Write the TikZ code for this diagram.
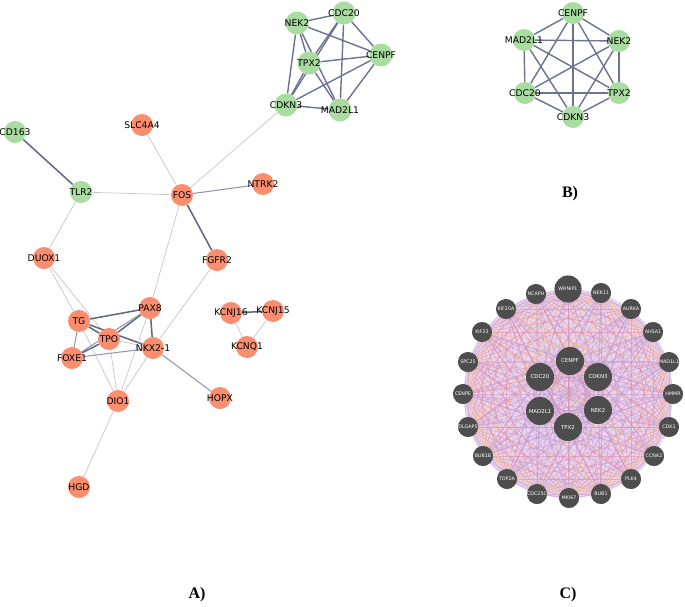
\documentclass[tikz,border=0pt]{standalone}
\usepackage{fontspec}
\setmainfont{DejaVu Sans}
\newfontfamily\tnr{Liberation Serif}
\usetikzlibrary{patterns}
\pgfdeclarelayer{bg}
\pgfdeclarelayer{paper}
\pgfsetlayers{paper,bg,main}
\definecolor{ora}{HTML}{FB8E6F}
\definecolor{grn}{HTML}{A8DCA0}
\definecolor{elt}{HTML}{C4C7D2}
\definecolor{emd}{HTML}{8E94AA}
\definecolor{edk}{HTML}{5F6680}
\definecolor{cedge}{HTML}{6C7390}
\definecolor{cgray}{HTML}{454545}
\definecolor{cstripe}{HTML}{5E5E5E}
\definecolor{lav}{HTML}{C296D6}
\definecolor{pnk}{HTML}{E3889A}
\definecolor{org}{HTML}{F5B56E}
\definecolor{disc}{HTML}{E9D6EC}
\tikzset{
  gn/.style={circle, fill=grn, minimum size=22pt, inner sep=0pt},
  on/.style={circle, fill=ora, minimum size=22pt, inner sep=0pt},
  every label/.style={font=\fontsize{9.2}{10}\selectfont, text=black, inner sep=0pt},
  le/.style={draw=elt, line width=0.7pt},
  me/.style={draw=emd, line width=1pt},
  de/.style={draw=edk, line width=1.5pt},
  ce/.style={draw=cedge, line width=1.4pt},
  cn/.style={circle, fill=cgray, minimum size=20pt, inner sep=0pt,
    postaction={pattern=north east lines, pattern color=cstripe}},
  cbig/.style={cn, minimum size=27pt},
  clab/.style={font=\fontsize{4.8}{5}\selectfont, text=white, inner sep=0pt},
  cblab/.style={font=\fontsize{5.4}{6}\selectfont, text=white, inner sep=0pt},
  panel/.style={font=\tnr\bfseries\fontsize{16}{16}\selectfont}
}
\begin{document}
\begin{tikzpicture}[x=1pt,y=-1pt]
\begin{pgfonlayer}{paper}
\fill[white] (0,0) rectangle (685,606);
\end{pgfonlayer}
\useasboundingbox (0,0) rectangle (685,606);

% ---------------- Panel A : top cluster ----------------
\node[gn, minimum size=23pt, label=center:NEK2] (tNEK2) at (297,23) {};
\node[gn, minimum size=23pt, label=center:CDC20] (tCDC20) at (344,13) {};
\node[gn, minimum size=23pt, label=center:CENPF] (tCENPF) at (381,55) {};
\node[gn, minimum size=23pt, label=center:TPX2] (tTPX2) at (309,63) {};
\node[gn, minimum size=23pt, label=center:CDKN3] (tCDKN3) at (286,105) {};
\node[gn, minimum size=23pt, label=center:MAD2L1] (tMAD2L1) at (340,110) {};

% ---------------- Panel A : main network ----------------
\node[gn, label=center:CD163] (CD163) at (15,132) {};
\node[on, label=center:SLC4A4] (SLC4A4) at (142,125) {};
\node[gn, label=center:TLR2] (TLR2) at (81,192) {};
\node[on, label=center:FOS] (FOS) at (182,195) {};
\node[on, label=center:NTRK2] (NTRK2) at (263,184) {};
\node[on, label=center:DUOX1] (DUOX1) at (44,258) {};
\node[on, label=center:FGFR2] (FGFR2) at (217,260) {};
\node[on, label=center:PAX8] (PAX8) at (150,308) {};
\node[on, label=center:TG] (TG) at (79,321) {};
\node[on, label=center:TPO] (TPO) at (109,339) {};
\node[on, label=center:NKX2-1] (NKX) at (153,348) {};
\node[on, label=center:FOXE1] (FOXE1) at (72,358) {};
\node[on, label=center:DIO1] (DIO1) at (118,401) {};
\node[on, label=center:HOPX] (HOPX) at (220,398) {};
\node[on, label=center:HGD] (HGD) at (79,487) {};
\node[on, label=center:KCNJ16] (KCNJ16) at (231,313) {};
\node[on, label=center:KCNJ15] (KCNJ15) at (273,311) {};
\node[on, label=center:KCNQ1] (KCNQ1) at (247,347) {};

% ---------------- Panel B ----------------
\node[gn, label=center:CENPF] (bCENPF) at (573,13) {};
\node[gn, label=center:MAD2L1] (bMAD2L1) at (524,40) {};
\node[gn, label=center:NEK2] (bNEK2) at (619,41) {};
\node[gn, label=center:CDC20] (bCDC20) at (525,93) {};
\node[gn, label=center:TPX2] (bTPX2) at (619,93) {};
\node[gn, label=center:CDKN3] (bCDKN3) at (573,117) {};

% ---------------- Panel C ----------------
\foreach \nm/\x/\y in {NCAPH/536/294, NEK11/601/293, AURKA/631/309,
  AHSA1/653/332, MAD1L1/669/362, HMMR/673/394, CDK1/669/427, CCNA2/654/456,
  PLK4/631/479, BUB1/601/494, MKI67/569/498, CDC25C/537/494, TOP2A/507/479,
  BUB1B/483/456, DLGAP5/468/427, CENPE/463/394, SPC25/468/362, KIF23/482/332,
  KIF20A/506/309}{
  \node[cn, label={[clab]center:\nm}] (c\nm) at (\x,\y) {};
}
\node[cbig, label={[clab]center:WRNIP1}] (cWRNIP1) at (568,289) {};
\foreach \nm/\x/\y in {CENPF/570/361, CDC20/540/377, CDKN3/598/377,
  MAD2L1/540/411, NEK2/598/410, TPX2/568/427}{
  \node[cbig, minimum size=28pt, label={[cblab]center:\nm}] (c\nm) at (\x,\y) {};
}

\begin{pgfonlayer}{bg}
  % top cluster (clique)
  \foreach \a [count=\i] in {tNEK2,tCDC20,tCENPF,tTPX2,tCDKN3,tMAD2L1}{
    \foreach \b [count=\j] in {tNEK2,tCDC20,tCENPF,tTPX2,tCDKN3,tMAD2L1}{
      \ifnum\j>\i \draw[ce] (\a) -- (\b);\fi
    }
  }
  % panel B clique
  \foreach \a [count=\i] in {bCENPF,bMAD2L1,bNEK2,bCDC20,bTPX2,bCDKN3}{
    \foreach \b [count=\j] in {bCENPF,bMAD2L1,bNEK2,bCDC20,bTPX2,bCDKN3}{
      \ifnum\j>\i \draw[ce] (\a) -- (\b);\fi
    }
  }
  % main network edges
  \draw[de] (CD163) -- (TLR2);
  \draw[le] (TLR2) -- (FOS);
  \draw[le] (TLR2) -- (DUOX1);
  \draw[le] (SLC4A4) -- (FOS);
  \draw[le] (FOS) -- (tCDKN3);
  \draw[me] (FOS) -- (NTRK2);
  \draw[de] (FOS) -- (FGFR2);
  \draw[le] (FOS) -- (PAX8);
  \draw[le] (FGFR2) -- (NKX);
  \draw[le] (DUOX1) -- (TG);
  \draw[le] (DUOX1) -- (TPO);
  \draw[de] (TG) -- (PAX8);
  \draw[de] (TG) -- (TPO);
  \draw[de] (TG) -- (NKX);
  \draw[me] (TG) -- (FOXE1);
  \draw[le] (TG) -- (DIO1);
  \draw[de] (TPO) -- (PAX8);
  \draw[le] (TPO) -- (NKX);
  \draw[de] (TPO) -- (FOXE1);
  \draw[le] (TPO) -- (DIO1);
  \draw[de] (PAX8) -- (NKX);
  \draw[me] (PAX8) -- (FOXE1);
  \draw[le] (PAX8) -- (DIO1);
  \draw[me] (FOXE1) -- (NKX);
  \draw[le] (NKX) -- (DIO1);
  \draw[me] (NKX) -- (HOPX);
  \draw[le] (DIO1) -- (HGD);
  \draw[de] (KCNJ16) -- (KCNJ15);
  \draw[le] (KCNJ16) -- (KCNQ1);
  \draw[le] (KCNJ15) -- (KCNQ1);
  % panel C
  \fill[disc] (568,394) circle (104);
  \foreach \a [count=\i] in {cNCAPH,cWRNIP1,cNEK11,cAURKA,cAHSA1,cMAD1L1,cHMMR,cCDK1,cCCNA2,cPLK4,cBUB1,cMKI67,cCDC25C,cTOP2A,cBUB1B,cDLGAP5,cCENPE,cSPC25,cKIF23,cKIF20A,cCENPF,cCDC20,cCDKN3,cMAD2L1,cNEK2,cTPX2}{
    \foreach \b [count=\j] in {cNCAPH,cWRNIP1,cNEK11,cAURKA,cAHSA1,cMAD1L1,cHMMR,cCDK1,cCCNA2,cPLK4,cBUB1,cMKI67,cCDC25C,cTOP2A,cBUB1B,cDLGAP5,cCENPE,cSPC25,cKIF23,cKIF20A,cCENPF,cCDC20,cCDKN3,cMAD2L1,cNEK2,cTPX2}{
      \ifnum\j>\i
        \pgfmathtruncatemacro\k{mod(\i*7+\j*3,10)}%
        \ifcase\k \def\cc{lav}\or\def\cc{lav}\or\def\cc{pnk}\or\def\cc{lav}\or\def\cc{lav}\or\def\cc{pnk}\or\def\cc{lav}\or\def\cc{lav}\or\def\cc{pnk}\or\def\cc{org}\fi
        \draw[draw=\cc, opacity=0.55, line width=0.7pt] (\a.center) -- (\b.center);
      \fi
    }
  }
\end{pgfonlayer}

% panel labels
\node[panel] (labA) at (197,595) {A)};
\node[panel] (labB) at (570,194) {B)};
\node[panel] (labC) at (568,595) {C)};
\end{tikzpicture}
\end{document}
